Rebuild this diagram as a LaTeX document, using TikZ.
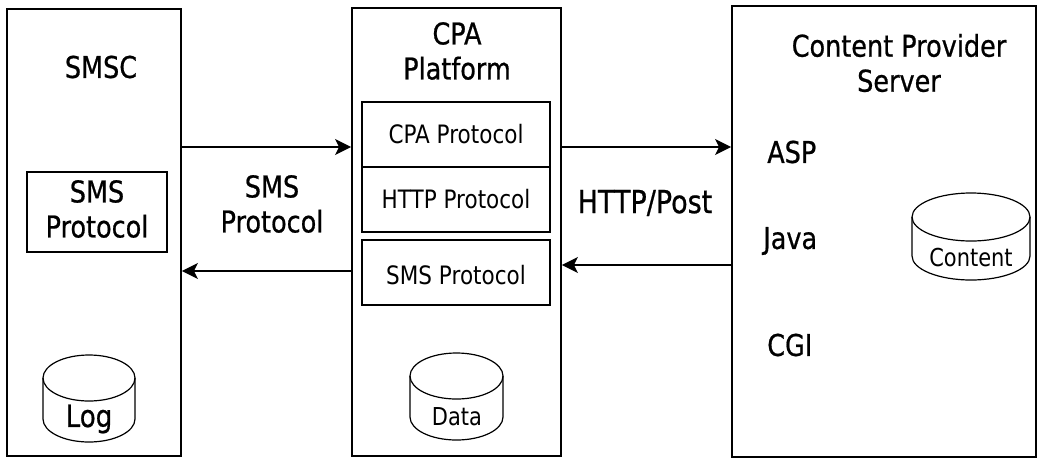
\documentclass[tikz,border=0pt]{standalone}
\usepackage{fontspec}
\setmainfont{DejaVu Sans}[FakeStretch=0.85]
\newfontfamily\labelfont{DejaVu Sans}[FakeStretch=0.85, FakeBold=0.7]
\usetikzlibrary{arrows.meta,fit}

% database drum: left x, right x, top y, bottom y, half height of the rim
\newcommand\dbdrum[5]{%
  \draw[drum] ({(#1+#2)/2},{#3+#5}) ellipse[x radius={(#2-#1)/2}, y radius=#5];
  \draw[drum] (#1,{#3+#5}) -- (#1,{#4-#5})
    arc[start angle=180, end angle=0, x radius={(#2-#1)/2}, y radius=#5]
    -- (#2,{#3+#5});
}

\begin{document}
\begin{tikzpicture}[x=0.75pt, y=-0.75pt,
  frame/.style={draw, line width=1.4pt, inner sep=0pt},
  layer/.style={draw, line width=1.2pt, inner sep=0pt},
  drum/.style={line width=0.9pt},
  big/.style={font=\labelfont\fontsize{22.5}{26.25}\selectfont, align=center, inner sep=0pt},
  small/.style={font=\fontsize{19}{22}\selectfont, align=center, inner sep=0pt},
  link/.style={line width=1.1pt, -{Stealth[length=12pt, width=12pt, inset=3pt]}}]

\useasboundingbox (0,0) rectangle (1042,458);

% the three systems
\node[frame, fit={(7,9) (181,456)}] (smsc) {};
\node[frame, fit={(352,8) (561,456)}] (cpa) {};
\node[frame, fit={(732,6) (1036,457)}] (cps) {};

% SMSC
\node[big] (smsctitle) at (101,67) {SMSC};
\node[layer, fit={(27,172) (167,252)}] (smsproto) {};
\node[big] (smsprototext) at (97,209) {SMS\\Protocol};
\dbdrum{43}{135}{355}{442}{23}
\node[big, font=\labelfont\fontsize{23}{26}\selectfont] (log) at (89,419) {Log};

% CPA platform
\node[big] (cpatitle) at (457,51) {CPA\\Platform};
\node[layer, fit={(362,102) (550,167)}] (cpaproto) {};
\node[layer, fit={(362,167) (550,232)}] (httpproto) {};
\node[layer, fit={(362,240) (550,305)}] (smslayer) {};
\node[small] at (cpaproto) {CPA Protocol};
\node[small] at (httpproto) {HTTP Protocol};
\node[small] at ([yshift=-2pt]smslayer) {SMS Protocol};
\dbdrum{410}{503}{353}{440}{23}
\node[small, font=\fontsize{18.5}{22}\selectfont] (data) at (457,417) {Data};

% content provider server
\node[big] (cpstitle) at (899,63) {Content Provider\\Server};
\node[big, anchor=west] (asp) at (767,152) {ASP};
\node[big, anchor=west] (java) at (763,241) {Java};
\node[big, anchor=west] (cgi) at (767,345) {CGI};
\dbdrum{912}{1030}{193}{280}{24}
\node[small, font=\fontsize{18.5}{22}\selectfont] (content) at (971,258) {Content};

% links between the systems
\coordinate (upper) at (0,147);
\coordinate (lowerleft) at (0,271);
\coordinate (lowerright) at (0,265);
\draw[link] (smsc.east |- upper) -- (cpa.west |- upper);
\draw[link] (cpa.west |- lowerleft) -- (smsc.east |- lowerleft);
\draw[link] (cpa.east |- upper) -- (cps.west |- upper);
\draw[link] (cps.west |- lowerright) -- (cpa.east |- lowerright);

\node[big] (smslabel) at (272,204) {SMS\\Protocol};
\node[big, font=\labelfont\fontsize{23.8}{28}\selectfont] (httplabel) at (645,203) {HTTP/Post};

\end{tikzpicture}
\end{document}
